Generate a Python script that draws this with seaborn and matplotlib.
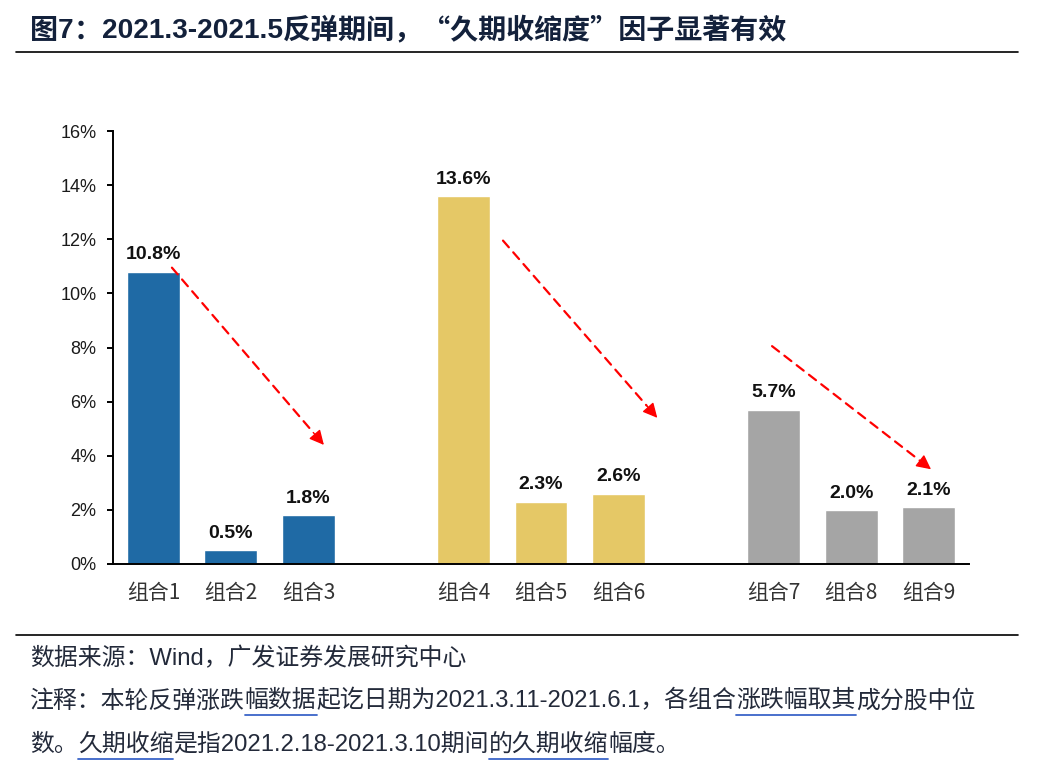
import matplotlib
matplotlib.use('Agg')
import matplotlib.pyplot as plt
import seaborn as sns
import pandas as pd
import numpy as np
from matplotlib.lines import Line2D

# ---------------- data ----------------
categories = ['组合1', '组合2', '组合3', '组合4', '组合5', '组合6', '组合7', '组合8', '组合9']
values = [10.8, 0.5, 1.8, 13.6, 2.3, 2.6, 5.7, 2.0, 2.1]
groups = ['A', 'A', 'A', 'B', 'B', 'B', 'C', 'C', 'C']
group_colors = {'A': '#1F6AA5', 'B': '#E5C866', 'C': '#A5A5A5'}
y_ticks = [0, 2, 4, 6, 8, 10, 12, 14, 16]

title_segments = [('图', 'cjk'), ('7', 'lat'), ('：', 'cjk'), ('2021.3-2021.5', 'lat'),
                  ('反弹期间，“久期收缩度”因子显著有效', 'cjk')]
source = '数据来源：Wind，广发证券发展研究中心'
note_line1 = [('注释：本轮反弹涨跌', False), ('幅数据', True),
              ('起讫日期为2021.3.11-2021.6.1，各组合', False),
              ('涨跌幅取其', True), ('成分股中位', False)]
note_line2 = [('数。', False), ('久期收缩', True), ('是指2021.2.18-2021.3.10期间', False),
              ('的久期收缩', True), ('幅度。', False)]

# trend arrows (annotation, data units): (start, end)
arrows = [((0.24, 10.95), (2.2, 4.4)),
          ((4.51, 11.95), (6.5, 5.4)),
          ((7.98, 8.05), (10.03, 3.5))]

# ---------------- style ----------------
sns.set_theme(style='white')
plt.rcParams['font.family'] = ['Liberation Sans', 'Noto Sans CJK SC', 'DejaVu Sans']

W, H = 1043, 779
fig = plt.figure(figsize=(W / 100, H / 100), dpi=100)
ax = fig.add_axes([113 / W, (H - 564) / H, (969 - 113) / W, (564 - 131) / H])

order = categories[:3] + [' '] + categories[3:6] + ['  '] + categories[6:]
df = pd.DataFrame({'cat': categories, 'val': values, 'grp': groups})
sns.barplot(data=df, x='cat', y='val', hue='grp', order=order, palette=group_colors,
            width=0.68, saturation=1, legend=False, ax=ax, errorbar=None)

for c in ax.containers:
    ax.bar_label(c, fmt='%.1f%%', padding=6, fontsize=14, fontweight='bold',
                 color='#111111', family=['Liberation Sans'])

ax.set_xlim(-0.52, len(order) - 1 + 0.52)
ax.set_ylim(0, 16)
ax.set_yticks(y_ticks)
ax.set_yticklabels([f'{v}%' for v in y_ticks])
ax.set_xlabel('')
ax.set_ylabel('')

for s in ['top', 'right']:
    ax.spines[s].set_visible(False)
for s in ['left', 'bottom']:
    ax.spines[s].set_visible(True)
    ax.spines[s].set_color('black')
    ax.spines[s].set_linewidth(1.4)

ax.tick_params(axis='y', which='major', left=True, length=4, width=1.4, color='black',
               labelsize=13, labelcolor='#1a1a1a', pad=8, direction='out')
ax.tick_params(axis='x', which='major', bottom=False, length=0, labelsize=15,
               labelcolor='#333333', pad=13)
for lab in ax.get_xticklabels():
    lab.set_family(['Noto Sans CJK SC', 'Liberation Sans'])

for (x0, y0), (x1, y1) in arrows:
    # dashed shaft
    f = 0.93
    xm, ym = x0 + (x1 - x0) * f, y0 + (y1 - y0) * f
    ax.annotate('', xy=(xm, ym), xytext=(x0, y0),
                arrowprops=dict(arrowstyle='-', color='#FF0000', lw=1.6,
                                linestyle=(0, (4, 3)), shrinkA=0, shrinkB=0))
    # solid head
    ax.annotate('', xy=(x1, y1), xytext=(xm, ym),
                arrowprops=dict(arrowstyle='-|>', color='#FF0000', lw=1.0,
                                mutation_scale=22, shrinkA=0, shrinkB=0))

# ---------------- title & footer ----------------
renderer = fig.canvas.get_renderer()

x = 30
for txt, kind in title_segments:
    fam = ['Noto Sans CJK SC'] if kind == 'cjk' else ['Liberation Sans']
    t = fig.text(x / W, 1 - 31 / H, txt, fontsize=20.2, fontweight='bold', color='#13213B',
                 ha='left', va='center', family=fam)
    x += t.get_window_extent(renderer=renderer).width

fig.add_artist(Line2D([16 / W, 1018 / W], [1 - 52 / H] * 2, color='black', lw=1.2))
fig.add_artist(Line2D([16 / W, 1018 / W], [1 - 635 / H] * 2, color='black', lw=1.2))

foot_color = '#232A3A'
foot_size = 17.2
fig.text(30 / W, 1 - 659 / H, source, fontsize=foot_size, color=foot_color,
         ha='left', va='center')


def draw_segments(x_px, y_px, segments, ul_offset):
    x = x_px
    for text, ul in segments:
        t = fig.text(x / W, 1 - y_px / H, text, fontsize=foot_size, color=foot_color,
                     ha='left', va='center')
        w = t.get_window_extent(renderer=renderer).width
        if ul:
            fig.add_artist(Line2D([x / W, (x + w) / W], [1 - (y_px + ul_offset) / H] * 2,
                                  color='#3A64C8', lw=1.3))
        x += w


draw_segments(30, 701, note_line1, 14)
draw_segments(30, 745, note_line2, 14)

fig.savefig('out.png', dpi=100)
